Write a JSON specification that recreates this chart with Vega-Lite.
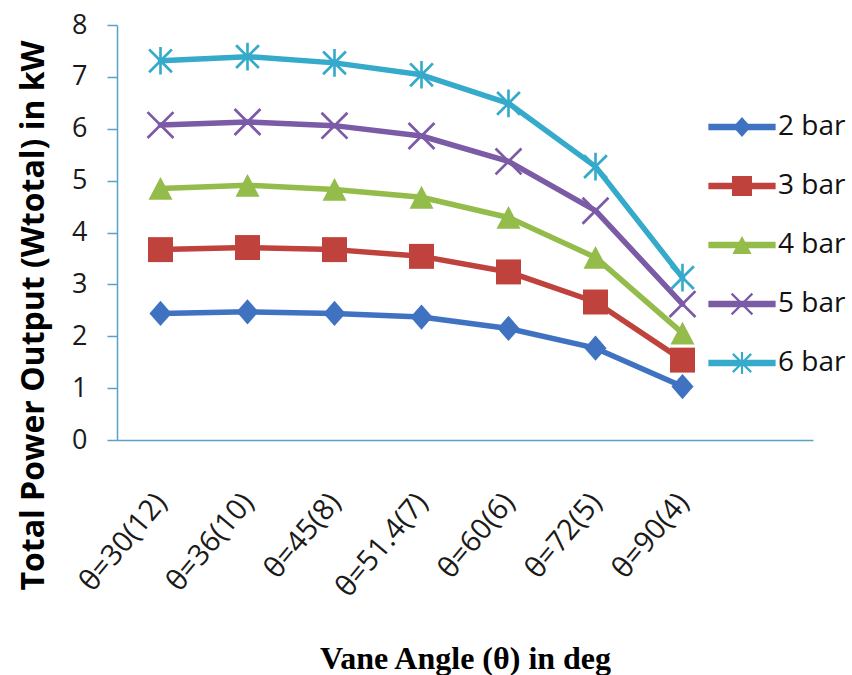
{
  "$schema": "https://vega.github.io/schema/vega-lite/v6.json",
  "width": 696,
  "height": 415,
  "autosize": {"type": "none"},
  "padding": {"left": 117, "top": 25, "right": 39, "bottom": 235},
  "background": "white",
  "config": {"view": {"stroke": null}, "axis": {"grid": false}},
  "data": {
    "values": [
      {"angle": "θ=30(12)", "series": "2 bar", "power": 2.44},
      {"angle": "θ=36(10)", "series": "2 bar", "power": 2.47},
      {"angle": "θ=45(8)", "series": "2 bar", "power": 2.44},
      {"angle": "θ=51.4(7)", "series": "2 bar", "power": 2.37},
      {"angle": "θ=60(6)", "series": "2 bar", "power": 2.15},
      {"angle": "θ=72(5)", "series": "2 bar", "power": 1.77},
      {"angle": "θ=90(4)", "series": "2 bar", "power": 1.03},
      {"angle": "θ=30(12)", "series": "3 bar", "power": 3.67},
      {"angle": "θ=36(10)", "series": "3 bar", "power": 3.71},
      {"angle": "θ=45(8)", "series": "3 bar", "power": 3.67},
      {"angle": "θ=51.4(7)", "series": "3 bar", "power": 3.54},
      {"angle": "θ=60(6)", "series": "3 bar", "power": 3.24},
      {"angle": "θ=72(5)", "series": "3 bar", "power": 2.66},
      {"angle": "θ=90(4)", "series": "3 bar", "power": 1.54},
      {"angle": "θ=30(12)", "series": "4 bar", "power": 4.85},
      {"angle": "θ=36(10)", "series": "4 bar", "power": 4.91},
      {"angle": "θ=45(8)", "series": "4 bar", "power": 4.83},
      {"angle": "θ=51.4(7)", "series": "4 bar", "power": 4.68},
      {"angle": "θ=60(6)", "series": "4 bar", "power": 4.29},
      {"angle": "θ=72(5)", "series": "4 bar", "power": 3.52},
      {"angle": "θ=90(4)", "series": "4 bar", "power": 2.06},
      {"angle": "θ=30(12)", "series": "5 bar", "power": 6.07},
      {"angle": "θ=36(10)", "series": "5 bar", "power": 6.13},
      {"angle": "θ=45(8)", "series": "5 bar", "power": 6.06},
      {"angle": "θ=51.4(7)", "series": "5 bar", "power": 5.86},
      {"angle": "θ=60(6)", "series": "5 bar", "power": 5.37},
      {"angle": "θ=72(5)", "series": "5 bar", "power": 4.42},
      {"angle": "θ=90(4)", "series": "5 bar", "power": 2.62},
      {"angle": "θ=30(12)", "series": "6 bar", "power": 7.31},
      {"angle": "θ=36(10)", "series": "6 bar", "power": 7.39},
      {"angle": "θ=45(8)", "series": "6 bar", "power": 7.27},
      {"angle": "θ=51.4(7)", "series": "6 bar", "power": 7.04},
      {"angle": "θ=60(6)", "series": "6 bar", "power": 6.49},
      {"angle": "θ=72(5)", "series": "6 bar", "power": 5.27},
      {"angle": "θ=90(4)", "series": "6 bar", "power": 3.13}
    ]
  },
  "encoding": {
    "x": {
      "field": "angle",
      "type": "ordinal",
      "scale": {"type": "point", "padding": 0.5, "domain": ["θ=30(12)", "θ=36(10)", "θ=45(8)", "θ=51.4(7)", "θ=60(6)", "θ=72(5)", "θ=90(4)", " "]},
      "axis": {
        "title": "Vane Angle (θ) in deg",
        "titleFont": "Liberation Serif",
        "titleFontSize": 32,
        "titleFontWeight": "bold",
        "titleColor": "#000000",
        "titleX": 348,
        "titleY": 228,
        "titleAlign": "center",
        "titleBaseline": "alphabetic",
        "labelAngle": -50,
        "labelAlign": "right",
        "labelBaseline": "middle",
        "labelFont": "Open Sans",
        "labelFontSize": 29,
        "labelColor": "#1a1a1a",
        "labelPadding": 57,
        "labelOverlap": false,
        "ticks": false,
        "domainColor": "#5aa0c8",
        "domainWidth": 1.5
      }
    },
    "y": {
      "field": "power",
      "type": "quantitative",
      "scale": {"domain": [0, 8], "nice": false},
      "axis": {
        "title": "Total Power Output  (Wtotal) in kW",
        "titleFont": "Open Sans",
        "titleFontSize": 32,
        "titleFontWeight": "bold",
        "titleColor": "#000000",
        "titleX": -74,
        "titleY": 290,
        "titleAlign": "center",
        "titleBaseline": "alphabetic",
        "values": [0, 1, 2, 3, 4, 5, 6, 7, 8],
        "format": "d",
        "labelFont": "Open Sans",
        "labelFontSize": 27,
        "labelColor": "#1a1a1a",
        "labelPadding": 20,
        "tickSize": 10,
        "tickWidth": 1.5,
        "tickColor": "#5aa0c8",
        "domainColor": "#5aa0c8",
        "domainWidth": 1.5
      }
    }
  },
  "layer": [
    {
      "mark": {"type": "line", "strokeWidth": 5.5, "strokeJoin": "round", "strokeCap": "round"},
      "encoding": {
        "color": {
          "field": "series",
          "type": "nominal",
          "scale": {
            "domain": ["2 bar", "3 bar", "4 bar", "5 bar", "6 bar"],
            "range": ["#3f72c0", "#c0423c", "#94bc4a", "#7b5aa6", "#35aacb"]
          },
          "legend": {
            "orient": "none",
            "legendX": 611,
            "legendY": 88,
            "title": null,
            "padding": 0,
            "labelFont": "Open Sans",
            "labelFontSize": 28,
            "labelColor": "#111111",
            "labelOffset": 22,
            "labelLimit": 200,
            "symbolType": "M-3.5,0H3.5",
            "symbolSize": 369,
            "symbolStrokeWidth": 6.5,
            "symbolOpacity": 1,
            "rowPadding": 31
          }
        }
      }
    },
    {
      "mark": {"type": "point", "filled": true, "opacity": 1, "size": 576, "strokeWidth": 0},
      "encoding": {
        "fill": {
          "field": "series",
          "type": "nominal",
          "scale": {"range": ["#3f72c0", "#c0423c", "#94bc4a", "#7b5aa6", "#35aacb"]},
          "legend": {
            "orient": "none",
            "legendX": 611,
            "legendY": 88,
            "title": null,
            "padding": 0,
            "labelFont": "Open Sans",
            "labelFontSize": 28,
            "labelOpacity": 0,
            "labelOffset": 22,
            "labelLimit": 200,
            "symbolSize": 369,
            "symbolStrokeWidth": 0,
            "symbolOpacity": 1,
            "rowPadding": 31
          }
        },
        "shape": {
          "field": "series",
          "type": "nominal",
          "scale": {
            "range": [
              "M0,-1.05L0.92,0L0,1.05L-0.92,0Z",
              "M-1.04,-1.04H1.04V1.04H-1.04Z",
              "M0,-0.95L1,0.95L-1,0.95Z",
              "M-1.16,-1L1,1.16L1.16,1L-1,-1.16ZM-1,1.16L1.16,-1L1,-1.16L-1.16,1Z",
              "M-1.03,-0.87L0.87,1.03L1.03,0.87L-0.87,-1.03ZM-0.87,1.03L1.03,-0.87L0.87,-1.03L-1.03,0.87ZM-0.11,-1.15V1.15H0.11V-1.15Z"
            ]
          },
          "legend": {
            "orient": "none",
            "legendX": 611,
            "legendY": 88,
            "title": null,
            "padding": 0,
            "labelFont": "Open Sans",
            "labelFontSize": 28,
            "labelOpacity": 0,
            "labelOffset": 22,
            "labelLimit": 200,
            "symbolSize": 369,
            "symbolStrokeWidth": 0,
            "symbolOpacity": 1,
            "rowPadding": 31
          }
        }
      }
    }
  ]
}
